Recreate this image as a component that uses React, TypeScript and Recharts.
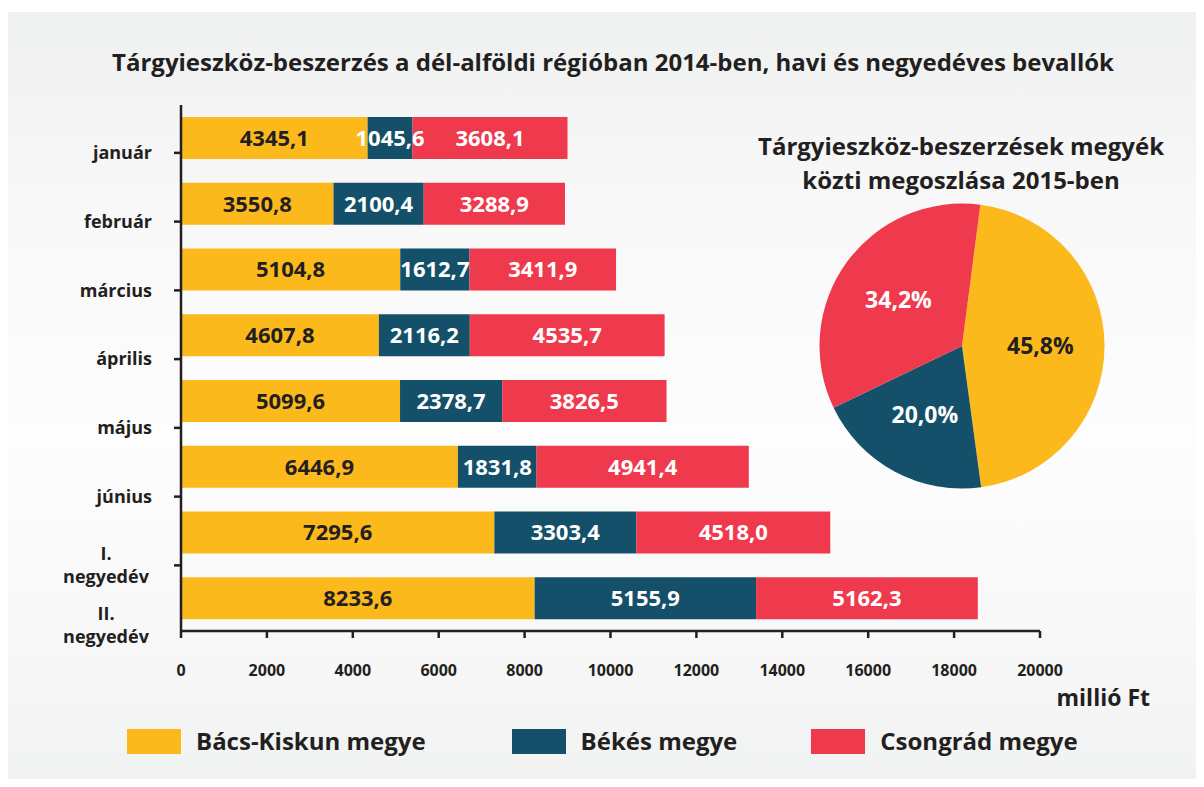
import { BarChart, Bar, XAxis, YAxis, LabelList, PieChart, Pie, Cell } from 'recharts'

const months = ['január', 'február', 'március', 'április', 'május', 'június', 'I.\nnegyedév', 'II.\nnegyedév']
const bacsKiskun = [4345.1, 3550.8, 5104.8, 4607.8, 5099.6, 6446.9, 7295.6, 8233.6]
const bekes = [1045.6, 2100.4, 1612.7, 2116.2, 2378.7, 1831.8, 3303.4, 5155.9]
const csongrad = [3608.1, 3288.9, 3411.9, 4535.7, 3826.5, 4941.4, 4518.0, 5162.3]
const xTicks = [0, 2000, 4000, 6000, 8000, 10000, 12000, 14000, 16000, 18000, 20000]

const counties = ['Bács-Kiskun megye', 'Békés megye', 'Csongrád megye']
const pieShares = [45.8, 20.0, 34.2]

const colors = ['#fcb91c', '#145069', '#ef394d']
const ink = '#231f20'
const font = '"Open Sans", sans-serif'

const barData = months.map((m, i) => ({
  name: m,
  bacs: bacsKiskun[i],
  bekes: bekes[i],
  csongrad: csongrad[i],
}))

const pieData = counties.map((c, i) => ({ name: c, value: pieShares[i] }))

const fmt = (v: any) => Number(v).toFixed(1).replace('.', ',')

function XTick({ x, y, payload }: any) {
  return (
    <text x={x} y={y + 32} dy="0.35em" textAnchor="middle" fill={ink}
      fontFamily={font} fontWeight={700} fontSize={16}>
      {payload.value}
    </text>
  )
}

function YTick({ x, y, payload, index }: any) {
  // labels sit a little below the bars, as in the original layout
  const shift = index === 7 ? 27 : 15 + 3 * index
  const ty = y + shift
  const lines = String(payload.value).split('\n')
  return (
    <g>
      {index < 7 && <line x1={x} x2={x + 7} y1={ty} y2={ty} stroke={ink} strokeWidth={2.5} />}
      {lines.length === 1 ? (
        <text x={x - 22} y={ty} dy="0.35em" textAnchor="end" fill={ink}
          fontFamily={font} fontWeight={700} fontSize={18}>
          {lines[0]}
        </text>
      ) : (
        lines.map((l, k) => (
          <text key={k} x={x - 68} y={ty - 11.5 + k * 23} dy="0.35em" textAnchor="middle" fill={ink}
            fontFamily={font} fontWeight={700} fontSize={18}>
            {l}
          </text>
        ))
      )}
    </g>
  )
}

const RADIAN = Math.PI / 180
function pieLabel({ cx, cy, midAngle, outerRadius, index, value }: any) {
  const r = outerRadius * 0.55
  const x = cx + r * Math.cos(-midAngle * RADIAN)
  const y = cy + r * Math.sin(-midAngle * RADIAN)
  return (
    <text x={x} y={y} dy="0.35em" textAnchor="middle" fill={index === 0 ? ink : '#fff'}
      fontFamily={font} fontWeight={700} fontSize={23}>
      {fmt(value)}%
    </text>
  )
}

export default function App() {
  return (
    <div style={{ margin: -8, width: 1204, height: 787, position: 'relative', background: '#fff', fontFamily: font, color: ink }}>
      <div style={{
        position: 'absolute', left: 8, top: 12, width: 1196, height: 775,
        background: 'linear-gradient(#eff0f0 0%, #f8f8f8 25%, #fdfdfd 55%, #f8f8f8 80%, #f1f2f2 100%)',
      }} />
      <div style={{ position: 'absolute', left: 0, width: 1226, top: 47, textAlign: 'center', fontSize: 24, fontWeight: 700, lineHeight: '30px' }}>
        Tárgyieszköz-beszerzés a dél-alföldi régióban 2014-ben, havi és negyedéves bevallók
      </div>

      <div style={{ position: 'absolute', left: 0, top: 0 }}>
        <BarChart width={1204} height={787} data={barData} layout="vertical"
          margin={{ top: 105, right: 164, bottom: 96, left: 0 }} barSize={42}>
          <XAxis type="number" domain={[0, 20000]} ticks={xTicks} tick={<XTick />}
            tickSize={7} tickMargin={0} height={60}
            axisLine={{ stroke: ink, strokeWidth: 2.5 }} tickLine={{ stroke: ink, strokeWidth: 2.5 }} />
          <YAxis type="category" dataKey="name" width={181} tick={<YTick />} tickSize={7} tickMargin={0}
            axisLine={{ stroke: ink, strokeWidth: 2.5 }} tickLine={false} interval={0} />
          <Bar dataKey="bacs" stackId="a" fill={colors[0]} isAnimationActive={false}>
            <LabelList dataKey="bacs" position="center" formatter={fmt} fill={ink}
              fontFamily={font} fontWeight={700} fontSize={22} />
          </Bar>
          <Bar dataKey="bekes" stackId="a" fill={colors[1]} isAnimationActive={false}>
            <LabelList dataKey="bekes" position="center" formatter={fmt} fill="#fff"
              fontFamily={font} fontWeight={700} fontSize={22} />
          </Bar>
          <Bar dataKey="csongrad" stackId="a" fill={colors[2]} isAnimationActive={false}>
            <LabelList dataKey="csongrad" position="center" formatter={fmt} fill="#fff"
              fontFamily={font} fontWeight={700} fontSize={22} />
          </Bar>
        </BarChart>
      </div>

      <div style={{ position: 'absolute', left: 711, width: 500, top: 129, textAlign: 'center', fontSize: 24, fontWeight: 700, lineHeight: '34px', whiteSpace: 'nowrap' }}>
        Tárgyieszköz-beszerzések megyék<br />közti megoszlása 2015-ben
      </div>

      <div style={{ position: 'absolute', left: 812, top: 196 }}>
        <PieChart width={300} height={300} margin={{ top: 0, right: 0, bottom: 0, left: 0 }}>
          <Pie data={pieData} dataKey="value" nameKey="name" cx={150} cy={150} outerRadius={142.5}
            startAngle={82.6} endAngle={-277.4} stroke="none" label={pieLabel} labelLine={false}
            isAnimationActive={false}>
            {pieData.map((_e, i) => (
              <Cell key={`cell-${i}`} fill={colors[i]} />
            ))}
          </Pie>
        </PieChart>
      </div>

      <div style={{ position: 'absolute', right: 1204 - 1150, top: 682, fontSize: 23, fontWeight: 700, lineHeight: '30px' }}>
        millió Ft
      </div>

      <div style={{ position: 'absolute', left: 127, top: 727, display: 'flex', alignItems: 'center' }}>
        {counties.map((c, i) => (
          <div key={c} style={{ display: 'flex', alignItems: 'center', marginRight: i === 0 ? 86 : 74 }}>
            <span style={{ width: 54, height: 25, background: colors[i], display: 'inline-block', marginRight: 15 }} />
            <span style={{ fontSize: 24, fontWeight: 700, lineHeight: '28px' }}>{c}</span>
          </div>
        ))}
      </div>
    </div>
  )
}
